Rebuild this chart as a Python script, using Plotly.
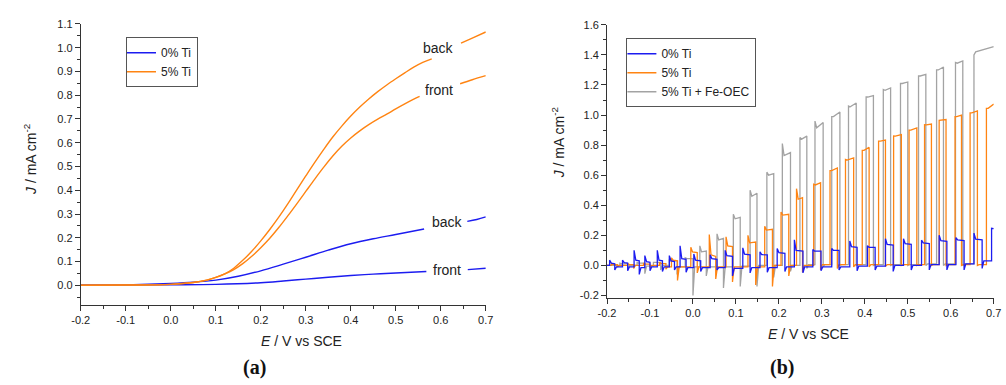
import plotly.graph_objects as go

W, H = 1006, 385

# ---------------- Panel (a) data ----------------
e_ti5_back = [-0.2, -0.1, 0.0, 0.05, 0.08, 0.10, 0.12, 0.14, 0.16, 0.18, 0.20, 0.22, 0.24, 0.26, 0.28, 0.30,
              0.32, 0.34, 0.36, 0.38, 0.40, 0.42, 0.44, 0.46, 0.48, 0.50, 0.52, 0.54, 0.56, 0.58]
j_ti5_back = [0.0, 0.001, 0.004, 0.012, 0.022, 0.033, 0.048, 0.072, 0.105, 0.143, 0.187, 0.235, 0.287, 0.343,
              0.402, 0.46, 0.517, 0.572, 0.624, 0.67, 0.712, 0.75, 0.784, 0.815, 0.843, 0.869, 0.894, 0.918,
              0.938, 0.953]
e_ti5_back_hi = [0.645, 0.67, 0.70]
j_ti5_back_hi = [1.019, 1.04, 1.066]

e_ti5_front = [-0.2, -0.1, 0.0, 0.05, 0.08, 0.10, 0.12, 0.14, 0.16, 0.18, 0.20, 0.22, 0.24, 0.26, 0.28, 0.30,
               0.32, 0.34, 0.36, 0.38, 0.40, 0.42, 0.44, 0.46, 0.48, 0.50, 0.52, 0.54, 0.553]
j_ti5_front = [0.0, 0.001, 0.004, 0.012, 0.022, 0.033, 0.048, 0.066, 0.091, 0.122, 0.158, 0.198, 0.243, 0.292,
               0.343, 0.395, 0.447, 0.497, 0.544, 0.585, 0.62, 0.65, 0.676, 0.699, 0.72, 0.742, 0.763, 0.783,
               0.795]
e_ti5_front_hi = [0.643, 0.67, 0.70]
j_ti5_front_hi = [0.848, 0.865, 0.882]

e_ti0_back = [-0.2, -0.1, 0.0, 0.05, 0.10, 0.15, 0.20, 0.25, 0.30, 0.35, 0.40, 0.45, 0.50, 0.563]
j_ti0_back = [0.0, 0.002, 0.008, 0.013, 0.022, 0.038, 0.061, 0.089, 0.118, 0.148, 0.175, 0.196, 0.214, 0.237]
e_ti0_back_hi = [0.659, 0.68, 0.70]
j_ti0_back_hi = [0.269, 0.277, 0.288]

e_ti0_front = [-0.2, 0.0, 0.1, 0.2, 0.25, 0.30, 0.35, 0.40, 0.45, 0.50, 0.568]
j_ti0_front = [0.0, 0.002, 0.004, 0.011, 0.018, 0.026, 0.034, 0.041, 0.047, 0.052, 0.058]
e_ti0_front_hi = [0.66, 0.70]
j_ti0_front_hi = [0.066, 0.072]

# ---------------- Panel (b) data (chopped light) ----------------
# 5% Ti + Fe-OEC
g_on = [-0.170, -0.130, -0.092, -0.055, -0.018, 0.016, 0.056, 0.094, 0.133, 0.172, 0.208, 0.249, 0.284,
        0.323, 0.362, 0.403, 0.443, 0.483, 0.525, 0.567, 0.611, 0.654]
g_off = [-0.152, -0.112, -0.075, -0.037, 0.000, 0.031, 0.071, 0.110, 0.149, 0.188, 0.227, 0.265, 0.303,
         0.342, 0.380, 0.420, 0.460, 0.500, 0.542, 0.583, 0.628, 0.700]
g_peak = [0.015, 0.02, 0.02, 0.035, 0.05, 0.13, 0.21, 0.34, 0.50, 0.62, 0.81, 0.85, 0.96, 0.99, 1.06, 1.12,
          1.17, 1.21, 1.26, 1.30, 1.35, 1.40]
g_settle = [0.01, 0.015, 0.02, 0.03, 0.045, 0.09, 0.17, 0.31, 0.46, 0.60, 0.73, 0.84, 0.915, 0.99, 1.055,
            1.12, 1.165, 1.21, 1.26, 1.30, 1.345, 1.42]
g_end = [0.01, 0.015, 0.02, 0.03, 0.045, 0.095, 0.18, 0.32, 0.48, 0.61, 0.75, 0.86, 0.95, 1.02, 1.08, 1.13,
         1.18, 1.22, 1.27, 1.32, 1.36, 1.456]
g_neg = [-0.03, -0.055, -0.03, -0.06, -0.20, -0.07, -0.15, -0.14, -0.14, -0.08, -0.04, -0.02, -0.01, 0.0,
         0.0, 0.0, 0.0, 0.0, 0.0, 0.0, 0.0, 0.0]
g_dark = [0.0, 0.0, -0.005, 0.0, -0.01, -0.01, -0.01, -0.01, -0.005, 0.0, 0.0, 0.0, 0.005, 0.005, 0.005,
          0.005, 0.005, 0.005, 0.005, 0.01, 0.01, 0.01]

# 5% Ti
o_on = [-0.190, -0.152, -0.115, -0.078, -0.050, -0.005, 0.038, 0.077, 0.128, 0.167, 0.205, 0.241, 0.281,
        0.319, 0.355, 0.394, 0.432, 0.467, 0.503, 0.539, 0.573, 0.610, 0.645, 0.683]
o_off = [-0.176, -0.138, -0.100, -0.063, -0.036, 0.010, 0.053, 0.092, 0.146, 0.185, 0.223, 0.255, 0.297,
         0.336, 0.374, 0.410, 0.448, 0.485, 0.521, 0.555, 0.589, 0.625, 0.662, 0.700]
o_peak = [0.012, 0.012, 0.015, 0.02, 0.05, 0.12, 0.205, 0.19, 0.20, 0.26, 0.355, 0.51, 0.54, 0.63, 0.705,
          0.765, 0.826, 0.861, 0.90, 0.936, 0.965, 0.99, 1.015, 1.045]
o_settle = [0.005, 0.005, 0.008, 0.012, 0.035, 0.09, 0.07, 0.13, 0.15, 0.235, 0.335, 0.44, 0.535, 0.63,
            0.70, 0.765, 0.826, 0.86, 0.90, 0.935, 0.965, 0.99, 1.015, 1.045]
o_end = [0.005, 0.005, 0.008, 0.012, 0.03, 0.085, 0.06, 0.125, 0.155, 0.24, 0.34, 0.45, 0.55, 0.648, 0.715,
         0.785, 0.833, 0.87, 0.914, 0.94, 0.97, 1.0, 1.027, 1.073]
o_neg = [-0.01, -0.02, -0.015, -0.025, -0.10, -0.05, -0.09, -0.11, -0.13, -0.14, -0.07, -0.045, -0.03,
         -0.02, -0.01, -0.01, -0.005, 0.0, 0.0, 0.0, 0.0, 0.0, 0.0, 0.0]
o_dark = [0.0, 0.0, 0.0, 0.0, -0.01, -0.01, -0.01, -0.01, -0.01, -0.01, 0.0, 0.0, 0.0, 0.005, 0.005,
          0.005, 0.005, 0.005, 0.005, 0.005, 0.005, 0.005, 0.005, 0.005]

# 0% Ti
b_on = [-0.194, -0.164, -0.137, -0.112, -0.083, -0.055, -0.030, 0.002, 0.040, 0.075, 0.116, 0.156, 0.196,
        0.236, 0.279, 0.323, 0.365, 0.406, 0.448, 0.490, 0.532, 0.573, 0.612, 0.654, 0.695]
b_off = [-0.182, -0.152, -0.125, -0.100, -0.071, -0.043, -0.016, 0.018, 0.056, 0.092, 0.133, 0.173, 0.214,
         0.256, 0.298, 0.340, 0.382, 0.424, 0.466, 0.508, 0.550, 0.591, 0.631, 0.673, 0.700]
b_peak = [0.035, 0.035, 0.10, 0.065, 0.10, 0.065, 0.13, 0.076, 0.07, 0.10, 0.117, 0.09, 0.113, 0.17, 0.106,
          0.113, 0.163, 0.13, 0.178, 0.178, 0.168, 0.20, 0.185, 0.215, 0.247]
b_settle = [0.015, 0.018, 0.035, 0.025, 0.035, 0.03, 0.045, 0.035, 0.045, 0.065, 0.075, 0.072, 0.085,
            0.10, 0.095, 0.10, 0.125, 0.12, 0.14, 0.145, 0.15, 0.165, 0.17, 0.175, 0.245]
b_end = [0.01, 0.015, 0.03, 0.02, 0.03, 0.025, 0.04, 0.03, 0.04, 0.06, 0.07, 0.07, 0.08, 0.095, 0.095, 0.10,
         0.12, 0.12, 0.135, 0.14, 0.145, 0.16, 0.165, 0.17, 0.245]
b_neg = [-0.03, -0.035, -0.06, -0.035, -0.04, -0.03, -0.045, -0.04, -0.03, -0.07, -0.05, -0.045, -0.04,
         -0.05, -0.035, -0.03, -0.035, -0.03, -0.04, -0.03, -0.03, -0.03, -0.03, -0.02, 0.0]
b_dark = [0.0, -0.01, -0.01, -0.015, -0.01, -0.01, -0.01, -0.015, -0.015, -0.015, -0.02, -0.015, -0.015,
          -0.01, -0.01, -0.01, -0.01, -0.005, -0.005, 0.0, 0.0, 0.005, 0.005, 0.01, 0.03]

x_tickvals = [-0.2, -0.1, 0.0, 0.1, 0.2, 0.3, 0.4, 0.5, 0.6, 0.7]
x_ticktext = ["-0.2", "-0.1", "0.0", "0.1", "0.2", "0.3", "0.4", "0.5", "0.6", "0.7"]
ya_tickvals = [0.0, 0.1, 0.2, 0.3, 0.4, 0.5, 0.6, 0.7, 0.8, 0.9, 1.0, 1.1]
ya_ticktext = ["0.0", "0.1", "0.2", "0.3", "0.4", "0.5", "0.6", "0.7", "0.8", "0.9", "1.0", "1.1"]
yb_tickvals = [-0.2, 0.0, 0.2, 0.4, 0.6, 0.8, 1.0, 1.2, 1.4, 1.6]
yb_ticktext = ["-0.2", "0.0", "0.2", "0.4", "0.6", "0.8", "1.0", "1.2", "1.4", "1.6"]

BLUE = "#1c1cf0"
ORANGE = "#ff8412"
GRAY = "#a3a3a3"
FONT = "Liberation Sans, Arial, sans-serif"


def chopped(e_on, e_off, j_peak, j_settle, j_end, j_neg, j_dark, e_start=-0.2, e_end=0.7, relax=0.004):
    xs = [e_start]
    ys = [j_dark[0]]
    n = len(e_on)
    for i in range(n):
        xs += [e_on[i], e_on[i], e_on[i] + relax, e_off[i]]
        ys += [j_dark[i], j_peak[i], j_settle[i], j_end[i]]
        if e_off[i] < e_end - 1e-9:
            nxt = j_dark[i + 1] if i + 1 < n else j_dark[i]
            xs += [e_off[i], e_off[i] + relax]
            ys += [j_neg[i], nxt]
    if xs[-1] < e_end:
        xs.append(e_end)
        ys.append(ys[-1])
    return xs, ys


fig = go.Figure()


def add_a(x, y, color, name, show):
    fig.add_trace(go.Scatter(x=x, y=y, mode="lines",
                             line=dict(color=color, width=1.4, shape="spline", smoothing=1.0),
                             name=name, legendgroup=name, showlegend=show, xaxis="x", yaxis="y",
                             legend="legend", hoverinfo="skip"))


add_a(e_ti0_back, j_ti0_back, BLUE, "0% Ti", True)
add_a(e_ti0_back_hi, j_ti0_back_hi, BLUE, "0% Ti", False)
add_a(e_ti0_front, j_ti0_front, BLUE, "0% Ti", False)
add_a(e_ti0_front_hi, j_ti0_front_hi, BLUE, "0% Ti", False)
add_a(e_ti5_back, j_ti5_back, ORANGE, "5% Ti", True)
add_a(e_ti5_back_hi, j_ti5_back_hi, ORANGE, "5% Ti", False)
add_a(e_ti5_front, j_ti5_front, ORANGE, "5% Ti", False)
add_a(e_ti5_front_hi, j_ti5_front_hi, ORANGE, "5% Ti", False)

gx, gy = chopped(g_on, g_off, g_peak, g_settle, g_end, g_neg, g_dark)
ox, oy = chopped(o_on, o_off, o_peak, o_settle, o_end, o_neg, o_dark)
bx, by = chopped(b_on, b_off, b_peak, b_settle, b_end, b_neg, b_dark)

fig.add_trace(go.Scatter(x=gx, y=gy, mode="lines", line=dict(color=GRAY, width=1.3), name="5% Ti + Fe-OEC",
                         xaxis="x2", yaxis="y2", legend="legend2", legendrank=3, hoverinfo="skip"))
fig.add_trace(go.Scatter(x=ox, y=oy, mode="lines", line=dict(color=ORANGE, width=1.3), name="5% Ti",
                         xaxis="x2", yaxis="y2", legend="legend2", legendrank=2, hoverinfo="skip"))
fig.add_trace(go.Scatter(x=bx, y=by, mode="lines", line=dict(color=BLUE, width=1.3), name="0% Ti",
                         xaxis="x2", yaxis="y2", legend="legend2", legendrank=1, hoverinfo="skip"))


def px_x(p):
    return p / W


def px_y(p):
    return 1 - p / H


axis_common = dict(showgrid=False, zeroline=False, showline=True, linecolor="#333", linewidth=1,
                   ticks="outside", ticklen=5, tickwidth=1, tickcolor="#333", mirror=False,
                   tickfont=dict(family=FONT, size=11, color="#222"), tickmode="array")
minor_common = dict(ticks="outside", ticklen=3, tickwidth=1, tickcolor="#333", showgrid=False,
                    tickmode="linear")

fig.update_layout(
    width=W, height=H, margin=dict(l=0, r=0, t=0, b=0),
    paper_bgcolor="white", plot_bgcolor="white",
    font=dict(family=FONT, size=13, color="#222"),
    xaxis=dict(axis_common, domain=[px_x(73), px_x(485)], range=[-0.2, 0.7001], anchor="y",
               tickvals=x_tickvals, ticktext=x_ticktext, minor=dict(minor_common, dtick=0.05, tick0=0)),
    yaxis=dict(axis_common, domain=[px_y(305.7), px_y(18.3)], range=[-0.081, 1.1001], anchor="x",
               tickvals=ya_tickvals, ticktext=ya_ticktext, minor=dict(minor_common, dtick=0.05, tick0=0)),
    xaxis2=dict(axis_common, domain=[px_x(608.3), px_x(1001.7)], range=[-0.2, 0.7001], anchor="y2",
                tickvals=x_tickvals, ticktext=x_ticktext, minor=dict(minor_common, dtick=0.05, tick0=0)),
    yaxis2=dict(axis_common, domain=[px_y(299), px_y(19.3)], range=[-0.217, 1.6001], anchor="x2",
                tickvals=yb_tickvals, ticktext=yb_ticktext, minor=dict(minor_common, dtick=0.1, tick0=0)),
    legend=dict(x=px_x(119), y=px_y(32), xanchor="left", yanchor="top", bgcolor="white",
                bordercolor="#555", borderwidth=1, font=dict(family=FONT, size=12, color="#222"),
                tracegroupgap=0, itemwidth=30, indentation=-6),
    legend2=dict(x=px_x(628), y=px_y(33), xanchor="left", yanchor="top", bgcolor="white",
                 bordercolor="#555", borderwidth=1, font=dict(family=FONT, size=12, color="#222"),
                 tracegroupgap=0, itemwidth=30, indentation=-6),
    showlegend=True,
)

ann = []
common_anchor = dict(xanchor="center", yanchor="middle", showarrow=False)
ann.append(dict(common_anchor, text="<i>E</i> / V vs SCE", x=px_x(298), y=px_y(343), xref="paper",
                yref="paper", font=dict(family=FONT, size=14, color="#222")))
ann.append(dict(common_anchor, text="<i>E</i> / V vs SCE", x=px_x(813), y=px_y(336), xref="paper",
                yref="paper", font=dict(family=FONT, size=14, color="#222")))
ann.append(dict(common_anchor, text="<i>J</i> / mA cm<sup>-2</sup>", x=px_x(22), y=px_y(157), xref="paper",
                yref="paper", textangle=-90, font=dict(family=FONT, size=14, color="#222")))
ann.append(dict(common_anchor, text="<i>J</i> / mA cm<sup>-2</sup>", x=px_x(558), y=px_y(140),
                xref="paper", yref="paper", textangle=-90, font=dict(family=FONT, size=14, color="#222")))
ann.append(dict(common_anchor, text="<b>(a)</b>", x=px_x(250), y=px_y(370), xref="paper", yref="paper",
                font=dict(family="Liberation Serif, DejaVu Serif, serif", size=20, color="#111")))
ann.append(dict(common_anchor, text="<b>(b)</b>", x=px_x(786), y=px_y(370), xref="paper", yref="paper",
                font=dict(family="Liberation Serif, DejaVu Serif, serif", size=20, color="#111")))
for txt, ex, jy in [("back", 0.596, 1.0), ("front", 0.596, 0.82), ("back", 0.614, 0.265),
                    ("front", 0.614, 0.066)]:
    ann.append(dict(common_anchor, text=txt, x=ex, y=jy, xref="x", yref="y",
                    font=dict(family=FONT, size=14, color="#222")))

fig.update_layout(annotations=ann)

fig.write_html("out.html")
